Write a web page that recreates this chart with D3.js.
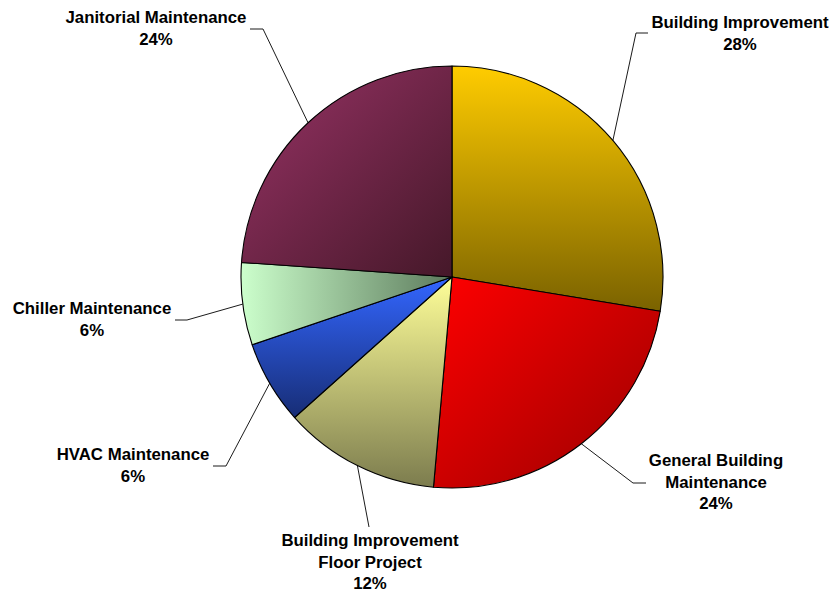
<!DOCTYPE html>
<html>
<head>
<meta charset="utf-8">
<script src="https://cdn.jsdelivr.net/npm/d3@7"></script>
<style>
  html, body { margin: 0; padding: 0; background: #ffffff; }
  svg { display: block; }
  .lbl { font-family: "Liberation Sans", Arial, sans-serif; font-weight: bold; font-size: 16.8px; fill: #000; }
</style>
</head>
<body>
<svg id="chart" width="832" height="594"></svg>
<script>
// Maintenance spending by category (share of total)
const categories = [
  "Building Improvement",
  "General Building\nMaintenance",
  "Building Improvement\nFloor Project",
  "HVAC Maintenance",
  "Chiller Maintenance",
  "Janitorial Maintenance"
];
const shares = [27.6, 23.8, 12.0, 6.4, 6.3, 23.9];

// Gradient fill for each slice: light colour, dark colour, direction
const fills = [
  { from: "#ffcc00", to: "#7a6200", dir: "v" },
  { from: "#ff0000", to: "#990000", dir: "d" },
  { from: "#ffff99", to: "#7c7c4e", dir: "v" },
  { from: "#3366ff", to: "#172d75", dir: "v" },
  { from: "#ccffcc", to: "#5c7a5c", dir: "h" },
  { from: "#993366", to: "#451829", dir: "d" }
];

// Label placement: text centre x, first baseline y, leader elbow and end
const labelLayout = [
  { x: 740, y: 28,  elbow: [636, 33],  end: [648, 33] },
  { x: 716, y: 466, elbow: [633, 483], end: [646, 483] },
  { x: 370, y: 546, elbow: [369, 527], end: [369, 527] },
  { x: 133, y: 460, elbow: [226, 466], end: [213, 466] },
  { x: 92,  y: 314, elbow: [187, 320], end: [175, 320] },
  { x: 156, y: 23,  elbow: [263, 29],  end: [250, 29] }
];

const svg = d3.select("#chart");
const cx = 452, cy = 277, radius = 211;
const lineH = 21.5;

const dirs = {
  v: { x1: 0, y1: 0, x2: 0, y2: 1 },
  h: { x1: 0, y1: 0, x2: 1, y2: 0 },
  d: { x1: 0, y1: 0, x2: 1, y2: 1 }
};

const defs = svg.append("defs");
fills.forEach((f, i) => {
  const d = dirs[f.dir];
  const g = defs.append("linearGradient")
    .attr("id", "grad" + i)
    .attr("x1", d.x1).attr("y1", d.y1).attr("x2", d.x2).attr("y2", d.y2);
  g.append("stop").attr("offset", "0%").attr("stop-color", f.from);
  g.append("stop").attr("offset", "100%").attr("stop-color", f.to);
});

const total = d3.sum(shares);
const pie = d3.pie().sort(null).value(d => d);
const arcs = pie(shares);
const arc = d3.arc().innerRadius(0).outerRadius(radius);

const g = svg.append("g").attr("transform", `translate(${cx},${cy})`);

g.selectAll("path.slice")
  .data(arcs)
  .join("path")
  .attr("class", "slice")
  .attr("d", arc)
  .attr("fill", (d, i) => `url(#grad${i})`)
  .attr("stroke", "#000")
  .attr("stroke-width", 1.1)
  .attr("stroke-linejoin", "round");

// Leader lines from each slice's outer edge to its label
const edge = d3.arc().innerRadius(radius).outerRadius(radius);
const leaders = svg.append("g");
arcs.forEach((a, i) => {
  const [px, py] = edge.centroid(a);
  const L = labelLayout[i];
  leaders.append("polyline")
    .attr("points", [[cx + px, cy + py], L.elbow, L.end].map(p => p.join(",")).join(" "))
    .attr("fill", "none")
    .attr("stroke", "#000")
    .attr("stroke-width", 0.9);
});

// Labels: category name and rounded percentage
const labels = svg.append("g");
arcs.forEach((a, i) => {
  const L = labelLayout[i];
  const lines = categories[i].split("\n").concat([Math.round(a.data / total * 100) + "%"]);
  const t = labels.append("text")
    .attr("class", "lbl")
    .attr("text-anchor", "middle");
  lines.forEach((s, k) => {
    t.append("tspan").attr("x", L.x).attr("y", L.y + k * lineH).text(s);
  });
});
</script>
</body>
</html>
